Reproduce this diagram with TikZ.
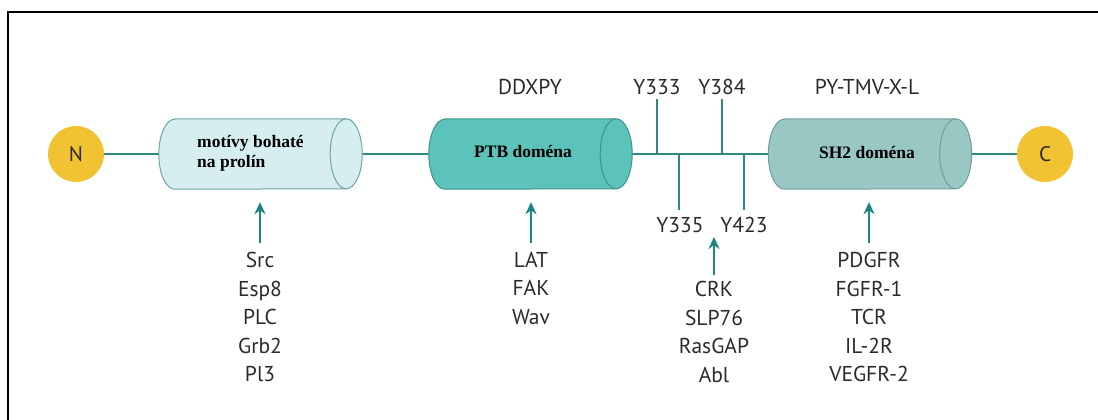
\documentclass[tikz,border=0pt]{standalone}
\usepackage{fontspec}
\setmainfont{PT Sans}
\newfontfamily\serifbold{Liberation Serif}[BoldFont={* Bold}]
\usetikzlibrary{arrows.meta}
\definecolor{linec}{HTML}{2F8A85}
\definecolor{arrc}{HTML}{1B857F}
\definecolor{cylAf}{HTML}{D6EEF0}
\definecolor{cylAd}{HTML}{6AA7A4}
\definecolor{cylBf}{HTML}{5CC3BB}
\definecolor{cylBd}{HTML}{3E948D}
\definecolor{cylCf}{HTML}{98C7C4}
\definecolor{cylCd}{HTML}{6E9F9C}
\definecolor{termc}{HTML}{F1C232}
\definecolor{txtc}{HTML}{2B2B2B}
\tikzset{
  lbl/.style={font=\fontsize{21.5}{28.5}\selectfont, text=txtc, inner sep=0pt, align=center},
  term/.style={circle, fill=termc, minimum size=56pt, inner sep=0pt, font=\fontsize{21}{24}\selectfont, text=txtc},
  cylbox/.style={minimum width=203pt, minimum height=70pt, inner sep=0pt},
  cyltext/.style={font=\serifbold\bfseries\fontsize{17.5}{20}\selectfont, text=black, inner sep=0pt, align=left},
  mainline/.style={draw=linec, line width=1.8pt},
  tick/.style={draw=linec, line width=1.5pt},
  arr/.style={draw=arrc, line width=1.8pt, -{Stealth[length=12pt,width=11pt]}},
}
\newcommand\drawcyl[3]{%
  \path[fill=#2, draw=#3, line width=1pt]
    ([xshift=16pt]#1.north west) -- ([xshift=-16pt]#1.north east)
    arc[start angle=90, end angle=-90, x radius=16pt, y radius=35pt]
    -- ([xshift=16pt]#1.south west)
    arc[start angle=270, end angle=90, x radius=16pt, y radius=35pt] -- cycle;
  \draw[draw=#3, line width=1pt] ([xshift=-16pt]#1.north east)
    arc[start angle=90, end angle=270, x radius=16pt, y radius=35pt];
}
\begin{document}
\begin{tikzpicture}[x=1pt, y=1pt]
\useasboundingbox (0,0) rectangle (1098,-420);
\fill[white] (0,0) rectangle (1098,-420);
\draw[line width=1.5pt, black] (1098,-12) -- (8,-12) -- (8,-420);

% main chain
\node[term] (N) at (76,-154) {N};
\node[term] (C) at (1045,-154) {C};
\node[cylbox] (c1) at (260.5,-154) {};
\node[cylbox] (c2) at (530.5,-154) {};
\node[cylbox] (c3) at (870,-154) {};

\draw[mainline] (N) -- (c1.west);
\draw[mainline] (c1.east) -- (c2.west);
\draw[mainline] (c2.east) -- (c3.west);
\draw[mainline] (c3.east) -- (C);

\drawcyl{c1}{cylAf}{cylAd}
\drawcyl{c2}{cylBf}{cylBd}
\drawcyl{c3}{cylCf}{cylCd}

\node[cyltext, anchor=west] (t1) at (197,-153) {mot\'ivy bohat\'e\\na prol\'in};
\node[cyltext] (t2) at (523,-152) {PTB dom\'ena};
\node[cyltext] (t3) at (867,-153) {SH2 dom\'ena};

% motif labels
\node[lbl] (ddxpy) at (530,-87) {DDXPY};
\node[lbl] (pytmv) at (867,-87) {PY-TMV-X-L};

% tyrosine ticks
\node[lbl] (y333) at (657,-87) {Y333};
\node[lbl] (y384) at (722,-87) {Y384};
\node[lbl] (y335) at (680,-225) {Y335};
\node[lbl] (y423) at (744,-225) {Y423};
\coordinate (p333) at (657,-154);
\coordinate (p384) at (722,-154);
\coordinate (p335) at (679,-154);
\coordinate (p423) at (744,-154);
\draw[tick] (p333) -- (657,-99);
\draw[tick] (p384) -- (722,-99);
\draw[tick] (p335) -- (679,-210);
\draw[tick] (p423) -- (744,-210);

% binding partner lists
\node[lbl, anchor=north] (l1) at (260,-252) {Src\\Esp8\\PLC\\Grb2\\Pl3};
\node[lbl, anchor=north] (l2) at (531,-252) {LAT\\FAK\\Wav};
\node[lbl, anchor=north] (l3) at (714,-281) {CRK\\SLP76\\RasGAP\\Abl};
\node[lbl, anchor=north] (l4) at (869,-252) {PDGFR\\FGFR-1\\TCR\\IL-2R\\VEGFR-2};

\coordinate (e3) at (714,-237);
\draw[arr] ([yshift=9pt]l1.north) -- ([yshift=-13pt]c1.south -| l1.north);
\draw[arr] ([yshift=9pt]l2.north) -- ([yshift=-13pt]c2.south -| l2.north);
\draw[arr] ([yshift=6pt]l3.north) -- (e3);
\draw[arr] ([yshift=9pt]l4.north) -- ([yshift=-13pt]c3.south -| l4.north);
\end{tikzpicture}
\end{document}
